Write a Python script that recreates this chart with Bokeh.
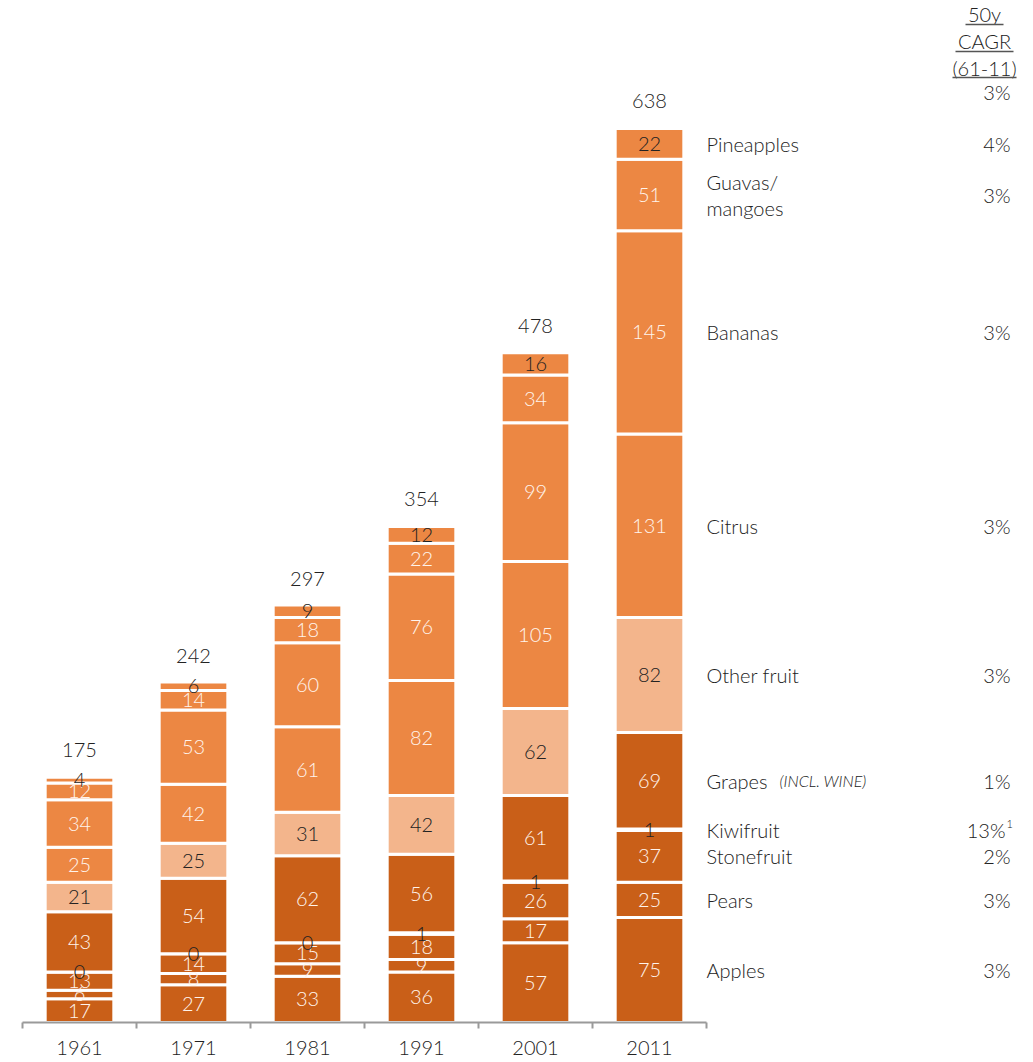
import numpy as np
from bokeh.plotting import figure
from bokeh.models import ColumnDataSource, Range1d, LinearAxis, FixedTicker
from bokeh.core.properties import value
from bokeh.embed import file_html
from bokeh.resources import INLINE

# ---------------- data ----------------
years = ["1961", "1971", "1981", "1991", "2001", "2011"]
categories = ["Apples", "Pears", "Stonefruit", "Kiwifruit", "Grapes",
              "Other fruit", "Citrus", "Bananas", "Guavas/\nmangoes", "Pineapples"]
apples = [17, 27, 33, 36, 57, 75]
pears = [6, 8, 9, 9, 17, 25]
stonefruit = [13, 14, 15, 18, 26, 37]
kiwifruit = [0, 0, 0, 1, 1, 1]
grapes = [43, 54, 62, 56, 61, 69]
other_fruit = [21, 25, 31, 42, 62, 82]
citrus = [25, 42, 61, 82, 105, 131]
bananas = [34, 53, 60, 76, 99, 145]
guavas_mangoes = [12, 14, 18, 22, 34, 51]
pineapples = [4, 6, 9, 12, 16, 22]
totals = [175, 242, 297, 354, 478, 638]
cagr = ["3%", "3%", "2%", "13%", "1%", "3%", "3%", "3%", "3%", "4%"]
cagr_total = "3%"
cagr_header = ["50y", "CAGR", "(61-11)"]

series = [apples, pears, stonefruit, kiwifruit, grapes, other_fruit,
          citrus, bananas, guavas_mangoes, pineapples]
keys = ["apples", "pears", "stonefruit", "kiwifruit", "grapes", "other",
        "citrus", "bananas", "guavas", "pineapples"]

# ---------------- style ----------------
DARK = "#C95F18"
MID = "#EC8743"
LIGHT = "#F3B58C"
colors = [DARK, DARK, DARK, DARK, DARK, LIGHT, MID, MID, MID, MID]
dark_label = [False, False, False, True, False, True, False, False, False, True]
TXT = "#222222"
WHITE_TXT = "#FFF4EC"
FONT = "Lato Light, Lato"

FW, FH = 1030, 1022
CELL = 114.0
SCALE = 1.4013
X0 = -22 / CELL

p = figure(frame_width=FW, frame_height=FH,
           x_range=Range1d(X0, X0 + FW / CELL), y_range=Range1d(0, FH / SCALE),
           output_backend="svg", toolbar_location=None,
           x_axis_location=None, y_axis_location=None,
           min_border=0, outline_line_color=None, background_fill_color="white")
p.grid.grid_line_color = None

xs = np.arange(len(years)) + 0.5
data = dict(x=xs)
for k, s in zip(keys, series):
    data[k] = s
src = ColumnDataSource(data)

p.vbar_stack(keys, x="x", width=0.602, color=colors, line_color="white",
             line_width=3, source=src)

# segment labels
lx, ly, lt, lc = [], [], [], []
bottom = np.zeros(len(years))
centers_last = []
for i, s in enumerate(series):
    arr = np.array(s, dtype=float)
    mid = bottom + arr / 2
    for j in range(len(years)):
        lx.append(xs[j]); ly.append(mid[j]); lt.append(str(s[j]))
        lc.append(TXT if dark_label[i] else WHITE_TXT)
    centers_last.append(mid[-1])
    bottom = bottom + arr

p.text(x="x", y="y", text="t", text_color="c",
       source=ColumnDataSource(dict(x=lx, y=ly, t=lt, c=lc)),
       text_align="center", text_baseline="middle",
       text_font=value(FONT), text_font_size="20px")

# totals
p.text(x=xs, y=totals, text=[str(t) for t in totals], y_offset=-27,
       text_align="center", text_baseline="middle", text_color=TXT,
       text_font=value(FONT), text_font_size="20px")

# right-side category names
xr = xs[-1] + 0.5
p.text(x=[xr] * len(categories), y=centers_last, text=categories,
       text_align="left", text_baseline="middle", text_color=TXT,
       text_font=value(FONT), text_font_size="20px", text_line_height=1.05)
gi = categories.index("Grapes")
p.text(x=[xr], y=[centers_last[gi]], text=["(INCL. WINE)"], x_offset=73,
       text_align="left", text_baseline="middle", text_color=TXT,
       text_font=value(FONT), text_font_size="16px", text_font_style="italic")

# CAGR column
ki = categories.index("Kiwifruit")
offs = [304] * len(cagr)
offs[ki] = 299
p.text(x=[xr] * len(cagr), y=centers_last, text=cagr, x_offset=offs,
       text_align="right", text_baseline="middle", text_color=TXT,
       text_font=value(FONT), text_font_size="20px")
p.text(x=[xr], y=[centers_last[ki]], text=["1"], x_offset=300, y_offset=-6,
       text_align="left", text_baseline="middle", text_color=TXT,
       text_font=value(FONT), text_font_size="11px")
p.text(x=[xr], y=[totals[-1]], text=[cagr_total], x_offset=304, y_offset=-36,
       text_align="right", text_baseline="middle", text_color=TXT,
       text_font=value(FONT), text_font_size="20px")

# header with underlines
hoff = [-114, -87, -60]
p.text(x=[xr] * 3, y=[totals[-1]] * 3, text=cagr_header, x_offset=278, y_offset=hoff,
       text_align="center", text_baseline="middle", text_color=TXT,
       text_font=value(FONT), text_font_size="20px")
ul_half = [19, 29, 32]
ul_dy = [-104, -77, -51]
for hw, dy in zip(ul_half, ul_dy):
    yy = totals[-1] - dy / SCALE
    p.segment(x0=[xr + (278 - hw) / CELL], x1=[xr + (278 + hw) / CELL],
              y0=[yy], y1=[yy], line_color="#555555", line_width=1.5)

# axis
ax = LinearAxis(ticker=FixedTicker(ticks=list(xs), minor_ticks=list(range(len(years) + 1))),
                bounds=(0, len(years)),
                major_label_overrides={float(x): y for x, y in zip(xs, years)})
ax.axis_line_color = "#9A9A9A"
ax.axis_line_width = 2
ax.major_tick_line_color = None
ax.major_tick_out = 0
ax.major_tick_in = 0
ax.minor_tick_line_color = "#9A9A9A"
ax.minor_tick_line_width = 2
ax.minor_tick_out = 6
ax.minor_tick_in = 0
ax.major_label_text_font = FONT
ax.major_label_text_font_size = "20px"
ax.major_label_text_color = TXT
ax.major_label_standoff = 12
p.add_layout(ax, "below")

open("out.html", "w").write(file_html(p, INLINE))
